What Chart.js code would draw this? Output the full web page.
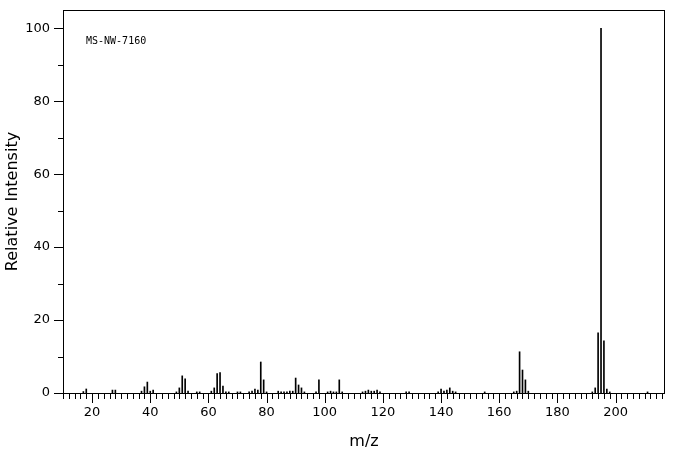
<!DOCTYPE html>
<html><head><meta charset="utf-8">
<script src="https://cdn.jsdelivr.net/npm/chart.js@4"></script>
<style>html,body{margin:0;padding:0;background:#fff}#w{width:676px;height:455px}</style>
</head><body><div id="w"><canvas id="c"></canvas></div>
<script>
const mzValues = [17,18,27,28,37,38,39,40,41,49,50,51,52,53,56,57,61,62,63,64,65,66,67,70,71,74,75,76,77,78,79,80,84,85,86,87,88,89,90,91,92,93,97,98,101,102,103,104,105,106,113,114,115,116,117,118,119,128,129,139,140,141,142,143,144,145,155,165,166,167,168,169,170,192,193,194,195,196,197,198,211];
const intensities = [0.4,1.1,0.8,0.8,0.5,1.7,3.0,0.5,0.8,0.3,1.4,4.7,3.9,0.5,0.3,0.3,0.5,1.4,5.3,5.6,1.9,0.3,0.3,0.3,0.3,0.3,0.5,1.1,0.8,8.5,3.6,0.3,0.5,0.3,0.3,0.3,0.5,0.5,4.1,2.2,1.4,0.3,0.3,3.6,0.3,0.5,0.3,0.3,3.6,0.3,0.3,0.5,0.8,0.5,0.5,0.8,0.3,0.3,0.3,0.3,1.1,0.5,0.8,1.4,0.5,0.3,0.3,0.3,0.5,11.3,6.3,3.6,0.5,0.3,1.4,16.5,100,14.3,1.1,0.3,0.3];
const xTickLabels = [20,40,60,80,100,120,140,160,180,200];
const yTickLabels = [0,20,40,60,80,100];
const label = "MS-NW-7160";

const tickPlugin = {
  id:'ticks',
  afterDraw(chart){
    const ctx=chart.ctx, a=chart.chartArea, xs=chart.scales.x, ys=chart.scales.y;
    ctx.save(); ctx.strokeStyle='#000'; ctx.lineWidth=1;
    ctx.strokeRect(a.left+0.5,a.top+0.5,a.right-a.left-1,a.bottom-a.top);
    ctx.beginPath();
    for(let v=10; v<=216; v+=2){
      const x=Math.round(xs.getPixelForValue(v))+0.5;
      const len = v%20===0?10:6;
      ctx.moveTo(x,a.bottom); ctx.lineTo(x,a.bottom+len);
    }
    for(let v=0; v<=100; v+=10){
      const y=Math.round(ys.getPixelForValue(v))+0.5;
      const len = v%20===0?9:5;
      ctx.moveTo(a.left,y); ctx.lineTo(a.left-len,y);
    }
    ctx.stroke();
    ctx.fillStyle='#000'; ctx.font='13px "DejaVu Sans"';
    ctx.textAlign='center'; ctx.textBaseline='top';
    xTickLabels.forEach(v=>ctx.fillText(String(v), xs.getPixelForValue(v), a.bottom+13));
    ctx.textAlign='right'; ctx.textBaseline='middle';
    yTickLabels.forEach(v=>ctx.fillText(String(v), a.left-13, ys.getPixelForValue(v)));
    ctx.font='10px "DejaVu Sans Mono"'; ctx.textAlign='left';
    ctx.fillText(label, a.left+23, 41);
    ctx.font='16px "DejaVu Sans"'; ctx.textAlign='center'; ctx.textBaseline='alphabetic';
    ctx.fillText('m/z', (a.left+a.right)/2, 446);
    ctx.translate(17,(a.top+a.bottom)/2); ctx.rotate(-Math.PI/2);
    ctx.fillText('Relative Intensity',0,0);
    ctx.restore();
  }
};

new Chart(document.getElementById('c'),{
  type:'bar',
  data:{datasets:[{data:mzValues.map((m,i)=>({x:m,y:intensities[i]})),backgroundColor:'#000',barThickness:1,borderWidth:0}]},
  options:{responsive:true,maintainAspectRatio:false,animation:false,
    layout:{padding:{left:0,right:11,top:10,bottom:0}},
    plugins:{legend:{display:false},tooltip:{enabled:false}},
    scales:{
      x:{type:'linear',min:10,max:217,offset:false,grid:{display:false},border:{display:false},ticks:{display:false},afterFit(s){s.height=62;}},
      y:{min:0,max:105,grid:{display:false},border:{display:false},ticks:{display:false},afterFit(s){s.width=63;}}
    }},
  plugins:[tickPlugin]
});
</script></body></html>
